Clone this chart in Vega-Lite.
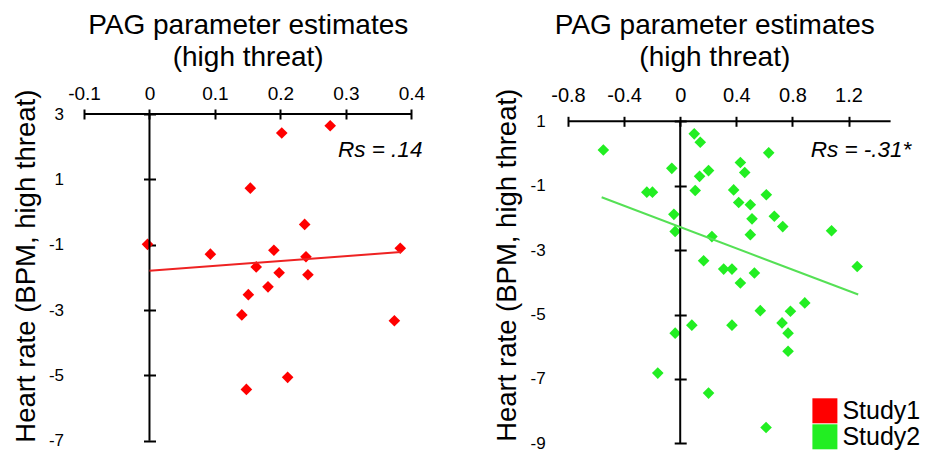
{
  "$schema": "https://vega.github.io/schema/vega-lite/v6.json",
  "padding": {"left": 11, "top": 11, "right": 5, "bottom": 5},
  "background": "white",
  "config": {
    "font": "Liberation Sans",
    "view": {"stroke": null},
    "axis": {"grid": false, "labelColor": "black", "titleColor": "black", "tickColor": "black", "labelFlush": false, "titleFontWeight": "normal", "labelFont": "Liberation Sans", "titleFont": "Liberation Sans"}
  },
  "datasets": {
    "pts1": [
      {"x": 0.202, "y": 2.42, "study": "Study1"},
      {"x": 0.276, "y": 2.64, "study": "Study1"},
      {"x": 0.154, "y": 0.73, "study": "Study1"},
      {"x": 0.237, "y": -0.38, "study": "Study1"},
      {"x": -0.003, "y": -0.99, "study": "Study1"},
      {"x": 0.093, "y": -1.29, "study": "Study1"},
      {"x": 0.190, "y": -1.17, "study": "Study1"},
      {"x": 0.239, "y": -1.37, "study": "Study1"},
      {"x": 0.383, "y": -1.11, "study": "Study1"},
      {"x": 0.163, "y": -1.68, "study": "Study1"},
      {"x": 0.198, "y": -1.86, "study": "Study1"},
      {"x": 0.242, "y": -1.92, "study": "Study1"},
      {"x": 0.181, "y": -2.29, "study": "Study1"},
      {"x": 0.151, "y": -2.53, "study": "Study1"},
      {"x": 0.141, "y": -3.15, "study": "Study1"},
      {"x": 0.374, "y": -3.33, "study": "Study1"},
      {"x": 0.211, "y": -5.06, "study": "Study1"},
      {"x": 0.148, "y": -5.43, "study": "Study1"}
    ],
    "pts2": [
      {"x": 0.10, "y": 0.61, "study": "Study2"},
      {"x": 0.143, "y": 0.35, "study": "Study2"},
      {"x": -0.548, "y": 0.11, "study": "Study2"},
      {"x": 0.631, "y": 0.02, "study": "Study2"},
      {"x": -0.06, "y": -0.46, "study": "Study2"},
      {"x": 0.202, "y": -0.53, "study": "Study2"},
      {"x": 0.138, "y": -0.71, "study": "Study2"},
      {"x": 0.429, "y": -0.28, "study": "Study2"},
      {"x": 0.46, "y": -0.59, "study": "Study2"},
      {"x": 0.107, "y": -1.15, "study": "Study2"},
      {"x": -0.238, "y": -1.20, "study": "Study2"},
      {"x": -0.198, "y": -1.20, "study": "Study2"},
      {"x": 0.381, "y": -1.13, "study": "Study2"},
      {"x": 0.614, "y": -1.28, "study": "Study2"},
      {"x": 0.417, "y": -1.52, "study": "Study2"},
      {"x": 0.50, "y": -1.59, "study": "Study2"},
      {"x": -0.045, "y": -1.89, "study": "Study2"},
      {"x": 0.512, "y": -2.03, "study": "Study2"},
      {"x": 0.671, "y": -1.95, "study": "Study2"},
      {"x": 0.731, "y": -2.27, "study": "Study2"},
      {"x": 1.079, "y": -2.40, "study": "Study2"},
      {"x": -0.036, "y": -2.42, "study": "Study2"},
      {"x": 0.50, "y": -2.52, "study": "Study2"},
      {"x": 0.226, "y": -2.58, "study": "Study2"},
      {"x": 0.167, "y": -3.33, "study": "Study2"},
      {"x": 0.31, "y": -3.59, "study": "Study2"},
      {"x": 0.369, "y": -3.59, "study": "Study2"},
      {"x": 0.529, "y": -3.71, "study": "Study2"},
      {"x": 0.429, "y": -4.02, "study": "Study2"},
      {"x": 1.262, "y": -3.51, "study": "Study2"},
      {"x": 0.888, "y": -4.64, "study": "Study2"},
      {"x": 0.571, "y": -4.88, "study": "Study2"},
      {"x": 0.786, "y": -4.90, "study": "Study2"},
      {"x": 0.083, "y": -5.33, "study": "Study2"},
      {"x": 0.369, "y": -5.33, "study": "Study2"},
      {"x": 0.726, "y": -5.26, "study": "Study2"},
      {"x": -0.036, "y": -5.58, "study": "Study2"},
      {"x": 0.769, "y": -5.58, "study": "Study2"},
      {"x": 0.769, "y": -6.14, "study": "Study2"},
      {"x": -0.16, "y": -6.82, "study": "Study2"},
      {"x": 0.202, "y": -7.44, "study": "Study2"},
      {"x": 0.612, "y": -8.51, "study": "Study2"}
    ],
    "fit1": [{"x": 0.0, "y": -1.80}, {"x": 0.384, "y": -1.225}],
    "fit2": [{"x": -0.56, "y": -1.36}, {"x": 1.269, "y": -4.38}],
    "one": [{}]
  },
  "bounds": "flush",
  "spacing": 156,
  "hconcat": [
    {
      "width": 327.4,
      "height": 326.7,
      "layer": [
        {
          "data": {"name": "pts1"},
          "mark": {"type": "point", "shape": "diamond", "filled": true, "size": 135, "opacity": 1},
          "encoding": {
            "x": {"field": "x", "type": "quantitative",
              "scale": {"domain": [-0.1, 0.4], "nice": false, "zero": false},
              "axis": {"orient": "top", "values": [-0.1, 0, 0.1, 0.2, 0.3, 0.4], "offset": -5, "domain": false, "tickSize": 10, "tickWidth": 2, "labelPadding": 6, "labelFontSize": 19, "labelExpr": "'' + datum.value",
                "title": ["PAG parameter estimates", "(high threat)"], "titleFontSize": 28, "titleLineHeight": 32.4, "titleBaseline": "alphabetic", "titleX": 163.7, "titleY": -85.4, "titleAlign": "center"}},
            "y": {"field": "y", "type": "quantitative",
              "scale": {"domain": [-7, 3], "nice": false, "zero": false},
              "axis": {"orient": "left", "values": [3, 1, -1, -3, -5, -7], "offset": -71.5, "domain": false, "tickSize": 12, "tickWidth": 2, "labelPadding": 80, "labelFontSize": 17, "labelExpr": "'' + datum.value",
                "title": "Heart rate (BPM, high threat)", "titleFontSize": 27.5, "titleAngle": -90, "titleBaseline": "middle", "titleAlign": "center", "titleX": -129.5, "titleY": 151.7}},
            "color": {"field": "study", "type": "nominal",
              "scale": {"domain": ["Study1", "Study2"], "range": ["#ff0000", "#22ee22"]},
              "legend": {"orient": "none", "legendX": 728.4, "legendY": 284.3, "title": null, "symbolType": "square", "symbolSize": 625, "symbolStrokeWidth": 0, "symbolOpacity": 1, "labelFontSize": 25, "labelColor": "black", "labelOffset": 5, "rowPadding": 0, "padding": 0, "direction": "vertical"}}
          }
        },
        {
          "data": {"name": "one"},
          "mark": {"type": "rule", "color": "black", "strokeWidth": 2},
          "encoding": {"y": {"datum": 3}}
        },
        {
          "data": {"name": "one"},
          "mark": {"type": "rule", "color": "black", "strokeWidth": 2},
          "encoding": {"x": {"datum": 0}}
        },
        {
          "data": {"name": "fit1"},
          "mark": {"type": "line", "color": "#ee2222", "strokeWidth": 2},
          "encoding": {"x": {"field": "x", "type": "quantitative"}, "y": {"field": "y", "type": "quantitative"}}
        },
        {
          "data": {"name": "one"},
          "mark": {"type": "text", "text": "Rs = .14", "fontSize": 22.5, "fontStyle": "italic", "align": "right", "baseline": "alphabetic", "color": "black"},
          "encoding": {"x": {"datum": 0.4168}, "y": {"datum": 1.69}}
        }
      ]
    },
    {
      "width": 322.6,
      "height": 329.3,
      "layer": [
        {
          "data": {"name": "pts2"},
          "mark": {"type": "point", "shape": "diamond", "filled": true, "size": 135, "opacity": 1},
          "encoding": {
            "x": {"field": "x", "type": "quantitative",
              "scale": {"domain": [-0.8, 1.5], "nice": false, "zero": false},
              "axis": {"orient": "top", "values": [-0.8, -0.4, 0, 0.4, 0.8, 1.2], "offset": -12.3, "domain": false, "tickSize": 10, "tickWidth": 2, "labelPadding": 10.5, "labelFontSize": 20, "labelExpr": "'' + datum.value",
                "title": ["PAG parameter estimates", "(high threat)"], "titleFontSize": 28, "titleLineHeight": 32.4, "titleBaseline": "alphabetic", "titleX": 146.3, "titleY": -92.7, "titleAlign": "center"}},
            "y": {"field": "y", "type": "quantitative",
              "scale": {"domain": [-9, 1.227], "nice": false, "zero": false},
              "axis": {"orient": "left", "values": [1, -1, -3, -5, -7, -9], "offset": -118.2, "domain": false, "tickSize": 12, "tickWidth": 2, "labelPadding": 129, "labelFontSize": 17, "labelExpr": "'' + datum.value",
                "title": "Heart rate (BPM, high threat)", "titleFontSize": 27.5, "titleAngle": -90, "titleBaseline": "middle", "titleAlign": "center", "titleX": -179, "titleY": 150.8}},
            "color": {"field": "study", "type": "nominal",
              "scale": {"domain": ["Study1", "Study2"], "range": ["#ff0000", "#22ee22"]}}
          }
        },
        {
          "data": {"name": "one"},
          "mark": {"type": "rule", "color": "black", "strokeWidth": 2},
          "encoding": {"y": {"datum": 1}}
        },
        {
          "data": {"name": "one"},
          "mark": {"type": "rule", "color": "black", "strokeWidth": 2},
          "encoding": {"x": {"datum": 0}, "y": {"datum": -9}, "y2": {"datum": 1}}
        },
        {
          "data": {"name": "fit2"},
          "mark": {"type": "line", "color": "#55e055", "strokeWidth": 2},
          "encoding": {"x": {"field": "x", "type": "quantitative"}, "y": {"field": "y", "type": "quantitative"}}
        },
        {
          "data": {"name": "one"},
          "mark": {"type": "text", "text": "Rs = -.31*", "fontSize": 22.5, "fontStyle": "italic", "align": "right", "baseline": "alphabetic", "color": "black"},
          "encoding": {"x": {"datum": 1.648}, "y": {"datum": -0.118}}
        }
      ]
    }
  ]
}
